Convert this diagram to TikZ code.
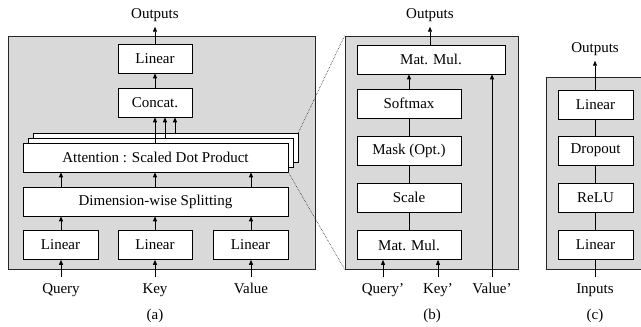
\documentclass[tikz,border=0pt]{standalone}
\usepackage{fontspec}
\setmainfont{Liberation Serif}
\usetikzlibrary{arrows.meta}
\definecolor{panelgray}{HTML}{D9D9D9}
\tikzset{
  panel/.style={draw=black!85, fill=panelgray, line width=0.7pt, inner sep=0pt},
  blk/.style={draw, fill=white, line width=0.7pt, inner sep=0pt, minimum height=29pt,
    font=\fontsize{15}{16}\selectfont},
  lbl/.style={anchor=base, inner xsep=1pt, inner ysep=5.5pt, text height=10pt, text depth=3pt,
    font=\fontsize{15}{16}\selectfont},
  arr/.style={line width=0.8pt, -{Triangle[length=5pt,width=4pt]}},
  ln/.style={line width=0.8pt},
  zoomln/.style={densely dotted, line width=0.6pt, black!85}
}
\begin{document}
\begin{tikzpicture}[x=1pt,y=-1pt]
\useasboundingbox (0,0) rectangle (641,327);

% ---------- (a) multi-head attention ----------
\node[panel, minimum width=307pt, minimum height=233pt] (pa) at (161.5,152.5) {};
\node[blk, minimum width=74pt] (linA) at (155,58.5) {Linear};
\node[blk, minimum width=74pt] (concat) at (155,102.5) {Concat.};
\node[blk, minimum width=265pt] (att3) at (165.5,147.5) {};
\node[blk, minimum width=265pt] (att2) at (160.5,152.5) {};
\node[blk, minimum width=265pt] (att1) at (155.5,157.5) {Attention : Scaled Dot Product};
\node[blk, minimum width=265pt] (split) at (155.5,201.5) {Dimension-wise Splitting};
\node[blk, minimum width=75pt] (lq) at (60.5,245) {Linear};
\node[blk, minimum width=74pt] (lk) at (155,245) {Linear};
\node[blk, minimum width=75pt] (lv) at (250.5,245) {Linear};

\node[lbl] (outA) at (155,18) {Outputs};
\node[lbl] (q) at (61,293) {Query};
\node[lbl] (k) at (155,293) {Key};
\node[lbl] (v) at (251,293) {Value};
\node[lbl] at (155,319) {(a)};

\draw[arr] (q.north) -- (q.north |- lq.south);
\draw[arr] (k.north) -- (k.north |- lk.south);
\draw[arr] (v.north) -- (v.north |- lv.south);
\foreach \x in {61,155,251} {
  \draw[arr] (\x,0 |- lq.north) -- (\x,0 |- split.south);
  \draw[arr] (\x,0 |- split.north) -- (\x,0 |- att1.south);
}
\draw[arr] (155,0 |- att1.north) -- (155,0 |- concat.south);
\draw[arr] (165,0 |- att2.north) -- (165,0 |- concat.south);
\draw[arr] (175,0 |- att3.north) -- (175,0 |- concat.south);
\draw[arr] (concat.north) -- (linA.south);
\draw[arr] (linA.north) -- (outA.south);

% ---------- (b) scaled dot-product attention ----------
\node[panel, minimum width=173pt, minimum height=233pt] (pb) at (431.5,152.5) {};
\node[blk, minimum width=148pt] (mm2) at (431,59.5) {Mat. Mul.};
\node[blk, minimum width=104pt] (soft) at (409,103.5) {Softmax};
\node[blk, minimum width=104pt] (mask) at (409,150.5) {Mask (Opt.)};
\node[blk, minimum width=104pt] (scale) at (409,197.5) {Scale};
\node[blk, minimum width=104pt] (mm1) at (409,245) {Mat. Mul.};

\node[lbl] (outB) at (430,18) {Outputs};
\node[lbl] (qp) at (383,293) {Query'};
\node[lbl] (kp) at (438,293) {Key'};
\node[lbl] (vp) at (492,293) {Value'};
\node[lbl] at (432,319) {(b)};

\draw[arr] (qp.north) -- (qp.north |- mm1.south);
\draw[arr] (kp.north) -- (kp.north |- mm1.south);
\draw[arr] (vp.north) -- (vp.north |- mm2.south);
\draw[ln] (mm1.north) -- (scale.south);
\draw[ln] (scale.north) -- (mask.south);
\draw[ln] (mask.north) -- (soft.south);
\draw[arr] (soft.north) -- (soft.north |- mm2.south);
\draw[arr] (outB.south |- mm2.north) -- (outB.south);

% zoom guides from the attention block to panel (b)
\draw[zoomln] (att3.north east) -- (pb.north west);
\draw[zoomln] (att1.south east) -- (pb.south west);

% ---------- (c) feed-forward ----------
\node[panel, minimum width=98pt, minimum height=192pt] (pc) at (595,173) {};
\node[blk, minimum width=75pt] (lc2) at (595.5,104.5) {Linear};
\node[blk, minimum width=75pt] (drop) at (595.5,150.5) {Dropout};
\node[blk, minimum width=75pt] (relu) at (595.5,197.5) {ReLU};
\node[blk, minimum width=75pt] (lc1) at (595.5,245) {Linear};

\node[lbl] (outC) at (595,52) {Outputs};
\node[lbl] (inC) at (595,293) {Inputs};
\node[lbl] at (595,319) {(c)};

\draw[ln] (inC.north) -- (inC.north |- lc1.south);
\draw[ln] (lc1.north) -- (relu.south);
\draw[ln] (relu.north) -- (drop.south);
\draw[ln] (drop.north) -- (lc2.south);
\draw[arr] (outC.south |- lc2.north) -- (outC.south);
\end{tikzpicture}
\end{document}
